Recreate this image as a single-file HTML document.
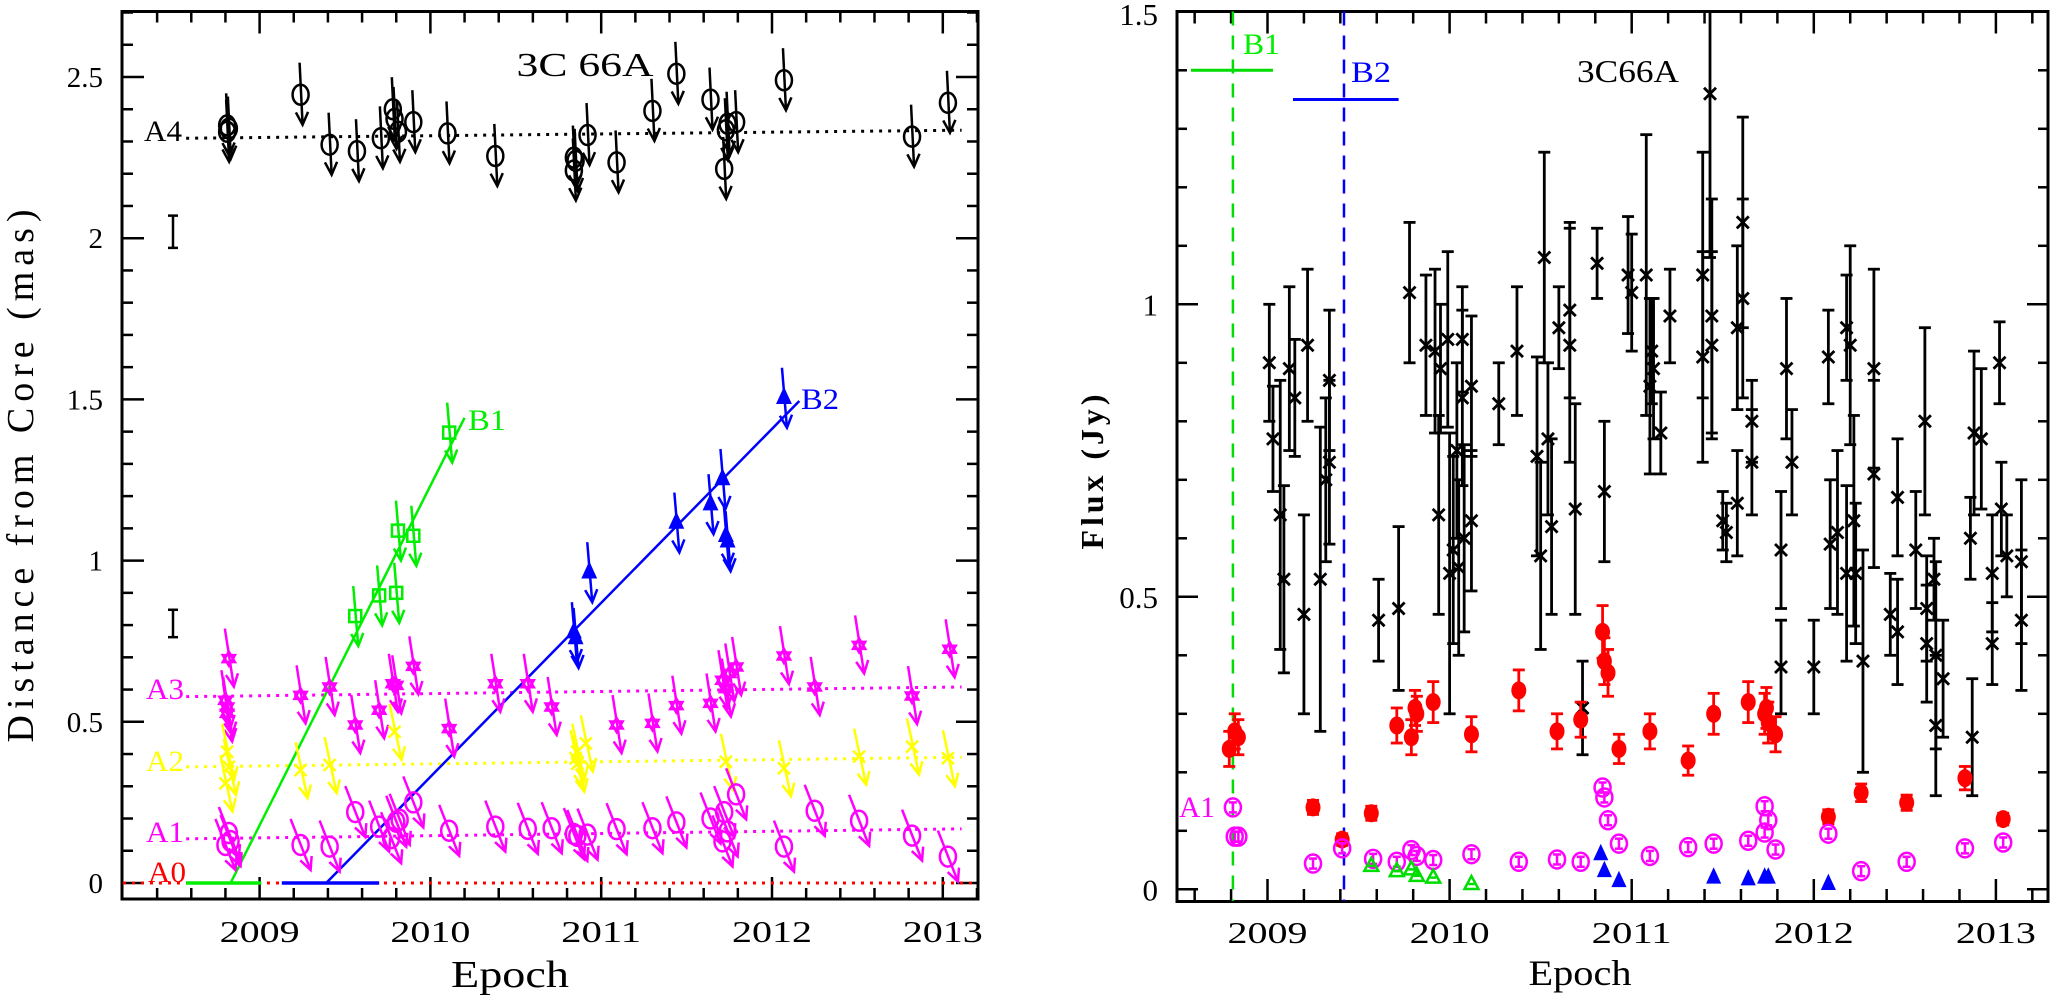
<!DOCTYPE html>
<html><head><meta charset="utf-8"><title>3C 66A</title>
<style>
html,body{margin:0;padding:0;background:#fff;}
svg{display:block;}
text{font-family:"Liberation Serif","DejaVu Serif",serif;}
</style></head>
<body>
<svg id="fig" width="2052" height="996" viewBox="0 0 2052 996" xmlns="http://www.w3.org/2000/svg">
<defs>
<clipPath id="clipL"><rect x="122" y="11.5" width="856" height="887.5"/></clipPath>
<clipPath id="clipR"><rect x="1177" y="11.5" width="871" height="890"/></clipPath>
</defs>
<g id="left"></g>
<g id="right"></g>
</svg>
<script>
// ---------- LEFT PANEL DATA (distance from core, mas) ----------
const a4T=[2008.81,2008.81,2008.82,2009.24,2009.41,2009.57,2009.71,2009.78,2009.79,2009.81,2009.9,2010.1,2010.38,2010.84,2010.84,2010.85,2010.92,2011.09,2011.3,2011.44,2011.64,2011.72,2011.73,2011.74,2011.79,2012.07,2012.82,2013.03];
const a4V=[2.35,2.33,2.34,2.445,2.29,2.27,2.31,2.40,2.37,2.33,2.36,2.325,2.255,2.25,2.21,2.24,2.32,2.235,2.395,2.51,2.43,2.215,2.335,2.355,2.36,2.49,2.315,2.42];
const a3T=[2008.82,2008.80,2008.81,2008.81,2009.24,2009.41,2009.56,2009.70,2009.78,2009.80,2009.90,2010.11,2010.38,2010.57,2010.71,2011.09,2011.30,2011.44,2011.64,2011.71,2011.73,2011.75,2011.79,2012.07,2012.25,2012.51,2012.82,2013.04];
const a3V=[0.696,0.567,0.546,0.526,0.582,0.608,0.49,0.536,0.618,0.613,0.672,0.479,0.618,0.618,0.546,0.49,0.495,0.55,0.557,0.629,0.603,0.65,0.67,0.704,0.608,0.737,0.58,0.725];
const a2T=[2008.81,2008.80,2008.82,2009.24,2009.41,2009.79,2010.85,2010.86,2010.86,2010.91,2011.73,2012.07,2012.51,2012.82,2013.03];
const a2V=[0.407,0.309,0.36,0.35,0.366,0.469,0.387,0.37,0.407,0.433,0.376,0.356,0.392,0.423,0.387];
const a1T=[2008.82,2008.80,2008.83,2009.24,2009.41,2009.56,2009.70,2009.77,2009.80,2009.82,2009.90,2010.11,2010.38,2010.57,2010.71,2010.84,2010.86,2010.92,2011.09,2011.30,2011.44,2011.64,2011.72,2011.71,2011.74,2011.79,2012.07,2012.25,2012.51,2012.82,2013.03];
const a1V=[0.155,0.118,0.13,0.118,0.113,0.22,0.175,0.139,0.19,0.196,0.25,0.162,0.175,0.168,0.17,0.152,0.146,0.15,0.167,0.17,0.188,0.2,0.22,0.129,0.16,0.275,0.113,0.224,0.193,0.147,0.082];
const b1T=[2009.56,2009.70,2009.80,2009.81,2009.90,2010.11];
const b1V=[0.828,0.892,0.90,1.093,1.077,1.397];
const b2T=[2010.84,2010.85,2010.93,2011.44,2011.64,2011.71,2011.73,2011.74,2012.07];
const b2V=[0.778,0.76,0.964,1.118,1.175,1.253,1.077,1.06,1.505];
// fitted lines / mean levels: [t0,v0,t1,v1]
const a4Fit=[2008.57,2.31,2013.11,2.335];
const a3Fit=[2008.57,0.578,2013.11,0.608];
const a2Fit=[2008.57,0.36,2013.11,0.39];
const a1Fit=[2008.57,0.137,2013.11,0.168];
const b1Fit=[2008.83,0,2010.2,1.443];
const b2Fit=[2009.39,0,2012.16,1.495];

// ---------- RIGHT PANEL DATA (flux, Jy) ----------
const coreT=[2009.01,2009.03,2009.12,2009.15,2009.22,2009.32,2009.34,2009.34,2009.78,2009.87,2009.92,2009.95,2009.99,2010.07,2010.07,2010.04,2010.12,2010.27,2010.37,2010.52,2010.48,2010.54,2010.6,2010.66,2010.66,2010.81,2010.85,2010.98,2011.0,2011.08,2011.11,2011.12,2011.10,2011.16,2011.21,2011.39,2011.39,2011.43,2011.44,2011.44,2011.58,2011.61,2011.61,2011.66,2011.66,2011.85,2011.88,2012.08,2012.18,2012.2,2012.33,2012.33,2012.61,2012.88,2012.92,2013.02,
2009.07,2009.09,2009.2,2009.29,2009.61,2009.72,2009.94,2010.0,2010.02,2010.05,2010.08,2010.12,2010.5,2010.56,2010.69,2010.73,2011.5,2011.52,2011.58,2011.82,2011.82,2012.0,2012.09,2012.13,2012.18,2012.22,2012.23,2012.27,2012.42,2012.46,2012.46,2012.56,2012.62,2012.62,2012.66,2012.67,2012.67,2012.71,2012.87,2012.86,2012.98,2012.98,2013.03,2013.06,2013.14,2013.14];
const coreV=[0.90,0.77,0.89,0.84,0.93,0.70,0.87,0.73,1.02,0.93,0.92,0.89,0.94,0.94,0.84,0.75,0.86,0.83,0.92,1.08,0.74,0.77,0.96,0.99,0.93,1.07,0.68,1.05,1.02,1.05,0.92,0.89,0.86,0.78,0.98,1.05,0.91,1.36,0.98,0.93,0.96,1.14,1.01,0.80,0.73,0.89,0.73,0.91,0.96,0.93,0.89,0.71,0.80,0.78,0.77,0.90,
0.64,0.53,0.47,0.53,0.46,0.48,0.64,0.54,0.58,0.55,0.60,0.63,0.57,0.62,0.65,0.31,0.63,0.61,0.66,0.58,0.38,0.38,0.59,0.61,0.54,0.63,0.54,0.39,0.47,0.44,0.67,0.58,0.48,0.42,0.53,0.40,0.28,0.36,0.26,0.60,0.54,0.42,0.65,0.57,0.56,0.46];
const coreE=[0.10,0.09,0.14,0.10,0.13,0.14,0.12,0.14,0.12,0.12,0.14,0.11,0.15,0.09,0.15,0.15,0.12,0.07,0.11,0.18,0.17,0.13,0.07,0.15,0.20,0.06,0.12,0.10,0.10,0.24,0.09,0.12,0.15,0.07,0.08,0.21,0.18,0.28,0.20,0.16,0.14,0.18,0.17,0.07,0.09,0.12,0.09,0.08,0.09,0.17,0.17,0.16,0.16,0.14,0.12,0.07,
0.23,0.16,0.17,0.26,0.07,0.14,0.17,0.24,0.16,0.15,0.16,0.12,0.16,0.15,0.18,0.08,0.05,0.05,0.09,0.10,0.08,0.08,0.11,0.14,0.15,0.18,0.12,0.19,0.07,0.09,0.10,0.10,0.09,0.10,0.07,0.16,0.12,0.10,0.10,0.07,0.10,0.07,0.08,0.07,0.14,0.12];
const a0fT=[2008.79,2008.82,2008.84,2009.25,2009.41,2009.57,2009.71,2009.79,2009.81,2009.82,2009.91,2010.12,2010.38,2010.59,2010.72,2010.84,2010.85,2010.87,2010.93,2011.1,2011.31,2011.45,2011.64,2011.73,2011.74,2011.75,2011.79,2012.08,2012.26,2012.51,2012.83,2013.04];
const a0fV=[0.24,0.27,0.26,0.14,0.085,0.13,0.28,0.26,0.31,0.30,0.32,0.265,0.34,0.27,0.29,0.44,0.39,0.37,0.24,0.27,0.22,0.30,0.32,0.30,0.31,0.285,0.265,0.124,0.165,0.148,0.19,0.12];
const a0fE=[0.03,0.03,0.03,0.012,0.01,0.012,0.03,0.03,0.03,0.03,0.035,0.03,0.035,0.03,0.03,0.045,0.04,0.04,0.025,0.03,0.025,0.035,0.035,0.035,0.035,0.035,0.03,0.012,0.015,0.013,0.02,0.01];
const a1fT=[2008.81,2008.82,2008.84,2009.25,2009.41,2009.58,2009.71,2009.79,2009.82,2009.91,2010.12,2010.38,2010.59,2010.72,2010.84,2010.85,2010.87,2010.93,2011.1,2011.31,2011.45,2011.64,2011.73,2011.75,2011.73,2011.79,2012.08,2012.26,2012.51,2012.83,2013.04];
const a1fV=[0.14,0.09,0.09,0.044,0.07,0.052,0.047,0.067,0.057,0.05,0.06,0.047,0.051,0.047,0.174,0.157,0.118,0.078,0.057,0.072,0.078,0.083,0.142,0.118,0.097,0.068,0.095,0.031,0.047,0.07,0.08];
const b1fT=[2009.57,2009.71,2009.79,2009.82,2009.91,2010.12];
const b1fV=[0.04,0.031,0.034,0.023,0.02,0.009];
const b2fT=[2010.83,2010.85,2010.93,2011.45,2011.64,2011.73,2011.75,2012.08];
const b2fV=[0.06,0.031,0.014,0.02,0.017,0.02,0.02,0.009];
const b1Epoch=[2008.81,2008.58,2009.03,1.40];
const b2Epoch=[2009.42,2009.14,2009.72,1.35];

// ---------- scales ----------
const LX=t=>259.6+170.8*(t-2009), LY=v=>883-322.4*v;
const RX=t=>1267.5+182.1*(t-2009), RY=v=>889.3-585*v;
const NS='http://www.w3.org/2000/svg';
function mk(parent,tag,attrs,txt){const e=document.createElementNS(NS,tag);for(const k in attrs)e.setAttribute(k,attrs[k]);if(txt!==undefined)e.textContent=txt;parent.appendChild(e);return e;}
const L=document.getElementById('left'), R=document.getElementById('right');

// ---------- LEFT frame & axes ----------
const Lfr=mk(L,'rect',{x:122,y:11.5,width:856,height:887.5,fill:'none',stroke:'#000','stroke-width':3});

const Lticks=mk(L,'g',{stroke:'#000','stroke-width':2.5});

for(let i=0;i<=25;i++){const t=2008.2+i*0.2;const x=LX(t);if(x<123||x>977)continue;const maj=Math.abs(t-Math.round(t))<0.01;const len=maj?22:11;
 mk(Lticks,'line',{x1:x,y1:899,x2:x,y2:899-len});mk(Lticks,'line',{x1:x,y1:11.5,x2:x,y2:11.5+len});}
for(let i=0;i<=27;i++){const v=i*0.1;const y=LY(v);if(y<12)continue;const maj=(i%5==0);const len=maj?22:11;
 mk(Lticks,'line',{x1:122,y1:y,x2:122+len,y2:y});mk(Lticks,'line',{x1:978,y1:y,x2:978-len,y2:y});}
const lyLabels=['0','0.5','1','1.5','2','2.5'];
lyLabels.forEach((s,i)=>{const e=mk(L,'text',{x:103,y:LY(i*0.5)+10,'font-size':29,'text-anchor':'end'},s);
 });
['2009','2010','2011','2012','2013'].forEach((s,i)=>{const e=mk(L,'text',{x:LX(2009+i),y:942,'font-size':31,'text-anchor':'middle',textLength:80,lengthAdjust:'spacingAndGlyphs'},s);
 });
let e;
e=mk(L,'text',{x:510,y:987,'font-size':38,'text-anchor':'middle',textLength:118,lengthAdjust:'spacingAndGlyphs'},'Epoch');

e=mk(L,'text',{x:0,y:0,'font-size':38,'text-anchor':'middle',textLength:533,lengthAdjust:'spacing',transform:'translate(33,476) rotate(-90)'},'Distance from Core (mas)');

e=mk(L,'text',{x:585,y:76,'font-size':34,'text-anchor':'middle',textLength:137,lengthAdjust:'spacingAndGlyphs'},'3C 66A');

// sample error bars
[[2.02,0.1],[0.805,0.085]].forEach(p=>{const g=mk(L,'g',{stroke:'#000','stroke-width':2.5});
 const y1=LY(p[0]+p[1]/2),y2=LY(p[0]-p[1]/2);mk(g,'line',{x1:173,y1:y1,x2:173,y2:y2});mk(g,'line',{x1:168,y1:y1,x2:178,y2:y1});mk(g,'line',{x1:168,y1:y2,x2:178,y2:y2});});

const LP=mk(L,'g',{'clip-path':'url(#clipL)'});

// A0 line
e=mk(LP,'line',{x1:LX(2008.2),y1:LY(0),x2:LX(2013.25),y2:LY(0),stroke:'#ff0000','stroke-width':3,'stroke-dasharray':'3 6'});

function fitLine(par,f,col,name,dash){const l=mk(par,'line',{x1:LX(f[0]),y1:LY(f[1]),x2:LX(f[2]),y2:LY(f[3]),stroke:col,'stroke-width':dash?3:2.5});if(dash)l.setAttribute('stroke-dasharray','3 6');
 }
fitLine(LP,a4Fit,'#000','a4-mean-line',true);
fitLine(LP,a3Fit,'#ff00ff','a3-mean-line',true);
fitLine(LP,a2Fit,'#ffff00','a2-mean-line',true);
fitLine(LP,a1Fit,'#ff00ff','a1-mean-line',true);
// B1/B2 zero segments
e=mk(LP,'line',{x1:LX(2008.57),y1:LY(0),x2:LX(2009.01),y2:LY(0),stroke:'#00ee00','stroke-width':3.5});
e=mk(LP,'line',{x1:LX(2009.13),y1:LY(0),x2:LX(2009.7),y2:LY(0),stroke:'#0000ff','stroke-width':3.5});
fitLine(LP,b1Fit,'#00ee00','b1-fit-line',false);
fitLine(LP,b2Fit,'#0000ff','b2-fit-line',false);

function arrow(g,x,y,d){const x1=x+d[0],y1=y+d[1],x2=x+d[2],y2=y+d[3];
 mk(g,'line',{x1:x1,y1:y1,x2:x2,y2:y2});const a=Math.atan2(y2-y1,x2-x1);const h=14,w=0.45;
 mk(g,'polyline',{points:`${x2-h*Math.cos(a-w)},${y2-h*Math.sin(a-w)} ${x2},${y2} ${x2-h*Math.cos(a+w)},${y2-h*Math.sin(a+w)}`,fill:'none'});}
function marker(g,type,x,y,col){
 if(type=='circle')mk(g,'ellipse',{cx:x,cy:y,rx:8,ry:10,fill:'none'});
 else if(type=='star'){const r=7;mk(g,'polygon',{points:`${x},${y-r} ${x+r*0.87},${y+r/2} ${x-r*0.87},${y+r/2}`,fill:'none'});mk(g,'polygon',{points:`${x},${y+r} ${x+r*0.87},${y-r/2} ${x-r*0.87},${y-r/2}`,fill:'none'});}
 else if(type=='x'){mk(g,'line',{x1:x-6,y1:y-6,x2:x+6,y2:y+6});mk(g,'line',{x1:x-6,y1:y+6,x2:x+6,y2:y-6});}
 else if(type=='square')mk(g,'rect',{x:x-6,y:y-6,width:12,height:12,fill:'none'});
 else if(type=='tri')mk(g,'polygon',{points:`${x},${y-8} ${x+6},${y+5} ${x-6},${y+5}`,fill:col,stroke:col});}
function leftSeries(T,V,type,col,name,d){const g=mk(LP,'g',{stroke:col,'stroke-width':2.5,fill:'none'});
 T.forEach((t,i)=>{const x=LX(t),y=LY(V[i]);const p=mk(g,'g',{});
  arrow(p,x,y,d);marker(p,type,x,y,col);});}
leftSeries(a4T,a4V,'circle','#000','a4',[-1,-32,2,30]);
leftSeries(a3T,a3V,'star','#ff00ff','a3',[-4,-30,5,28]);
leftSeries(a2T,a2V,'x','#ffff00','a2',[-5,-28,7,28]);
leftSeries(a1T,a1V,'circle','#ff00ff','a1',[-10,-26,10,25]);
leftSeries(b1T,b1V,'square','#00ee00','b1',[-2,-30,3,30]);
leftSeries(b2T,b2V,'tri','#0000ff','b2',[-2,-30,3,30]);
[['A4',144,141,'#000'],['A3',146,699,'#ff00ff'],['A2',146,771,'#ffff00'],['A1',146,842,'#ff00ff'],['A0',148,882,'#ff0000'],['B1',468,430,'#00ee00'],['B2',801,409,'#0000ff']].forEach(l=>{
 const t=mk(L,'text',{x:l[1],y:l[2],'font-size':30,fill:l[3],textLength:38,lengthAdjust:'spacingAndGlyphs'},l[0]);
 });

// ---------- RIGHT frame & axes ----------
e=mk(R,'rect',{x:1177,y:11.5,width:871,height:890,fill:'none',stroke:'#000','stroke-width':3});

const Rticks=mk(R,'g',{stroke:'#000','stroke-width':2.5});

for(let i=0;i<=25;i++){const t=2008.6+i*0.2;const x=RX(t);if(x<1178||x>2047)continue;const maj=Math.abs(t-Math.round(t))<0.01;const len=maj?22:12;
 mk(Rticks,'line',{x1:x,y1:901,x2:x,y2:901-len});mk(Rticks,'line',{x1:x,y1:11.5,x2:x,y2:11.5+len});}
for(let i=0;i<=15;i++){const v=i*0.1;const y=RY(v);if(y<12)continue;const maj=(i%5==0);const len=maj?21:10;
 mk(Rticks,'line',{x1:1177,y1:y,x2:1177+len,y2:y});mk(Rticks,'line',{x1:2048,y1:y,x2:2048-len,y2:y});}
['0','0.5','1','1.5'].forEach((s,i)=>{const y=Math.max(RY(i*0.5),14);const t=mk(R,'text',{x:1158,y:y+11,'font-size':31,'text-anchor':'end'},s);
 });
['2009','2010','2011','2012','2013'].forEach((s,i)=>{const t=mk(R,'text',{x:RX(2009+i),y:943,'font-size':31,'text-anchor':'middle',textLength:80,lengthAdjust:'spacingAndGlyphs'},s);
 });
e=mk(R,'text',{x:1580,y:985,'font-size':36,'text-anchor':'middle',textLength:103,lengthAdjust:'spacingAndGlyphs'},'Epoch');

e=mk(R,'text',{x:0,y:0,'font-size':32,'font-weight':'bold','text-anchor':'middle',textLength:155,lengthAdjust:'spacing',transform:'translate(1103,472) rotate(-90)'},'Flux (Jy)');

e=mk(R,'text',{x:1628,y:82,'font-size':32,'text-anchor':'middle',textLength:102,lengthAdjust:'spacingAndGlyphs'},'3C66A');


const RP=mk(R,'g',{'clip-path':'url(#clipR)'});

// ejection epochs
[[b1Epoch,'#00dd00','b1'],[b2Epoch,'#0000ff','b2']].forEach(b=>{const d=b[0];
 const v=mk(RP,'line',{x1:RX(d[0]),y1:11.5,x2:RX(d[0]),y2:901,stroke:b[1],'stroke-width':2.5,'stroke-dasharray':'14 10'});
 
 const h=mk(RP,'line',{x1:RX(d[1]),y1:RY(d[3]),x2:RX(d[2]),y2:RY(d[3]),stroke:b[1],'stroke-width':3});
 });
e=mk(R,'text',{x:1243,y:54,'font-size':30,fill:'#00ee00',textLength:37,lengthAdjust:'spacingAndGlyphs'},'B1');
e=mk(R,'text',{x:1351,y:82,'font-size':30,fill:'#0000ff',textLength:40,lengthAdjust:'spacingAndGlyphs'},'B2');
e=mk(R,'text',{x:1179,y:817,'font-size':30,fill:'#ff00ff',textLength:36,lengthAdjust:'spacingAndGlyphs'},'A1');

function errbar(g,x,v,er){const y1=RY(v+er),y2=RY(v-er);mk(g,'line',{x1:x,y1:y1,x2:x,y2:y2});mk(g,'line',{x1:x-6,y1:y1,x2:x+6,y2:y1});mk(g,'line',{x1:x-6,y1:y2,x2:x+6,y2:y2});}
// core black crosses
let gc=mk(RP,'g',{stroke:'#000','stroke-width':2.8,fill:'none'});
coreT.forEach((t,i)=>{const x=RX(t),y=RY(coreV[i]);const p=mk(gc,'g',{});
 errbar(p,x,coreV[i],coreE[i]);mk(p,'line',{x1:x-6,y1:y-6,x2:x+6,y2:y+6});mk(p,'line',{x1:x-6,y1:y+6,x2:x+6,y2:y-6});});
// A0 red filled
let gr=mk(RP,'g',{stroke:'#ff0000','stroke-width':2.8,fill:'#ff0000'});
a0fT.forEach((t,i)=>{const x=RX(t),y=RY(a0fV[i]);const p=mk(gr,'g',{});
 errbar(p,x,a0fV[i],a0fE[i]);mk(p,'ellipse',{cx:x,cy:y,rx:7.5,ry:9,stroke:'none'});});
// A1 magenta open
let gm=mk(RP,'g',{stroke:'#ff00ff','stroke-width':2.5,fill:'none'});
a1fT.forEach((t,i)=>{const x=RX(t),y=RY(a1fV[i]);const p=mk(gm,'g',{});
 mk(p,'ellipse',{cx:x,cy:y,rx:8,ry:9});mk(p,'line',{x1:x,y1:y-5,x2:x,y2:y+5});mk(p,'line',{x1:x-4,y1:y-5,x2:x+4,y2:y-5});mk(p,'line',{x1:x-4,y1:y+5,x2:x+4,y2:y+5});});
// B1 green open triangles
let gg=mk(RP,'g',{stroke:'#00dd00','stroke-width':2.5,fill:'none'});
b1fT.forEach((t,i)=>{const x=RX(t),y=RY(b1fV[i]);const p=mk(gg,'polygon',{points:`${x},${y-8} ${x+7},${y+5} ${x-7},${y+5}`});
 mk(gg,'line',{x1:x-3,y1:y,x2:x+3,y2:y});});
// B2 blue filled triangles
let gb=mk(RP,'g',{stroke:'#0000ff','stroke-width':2,fill:'#0000ff'});
b2fT.forEach((t,i)=>{const x=RX(t),y=RY(b2fV[i]);const p=mk(gb,'polygon',{points:`${x},${y-8} ${x+6},${y+5} ${x-6},${y+5}`});
 });
</script>
</body></html>
